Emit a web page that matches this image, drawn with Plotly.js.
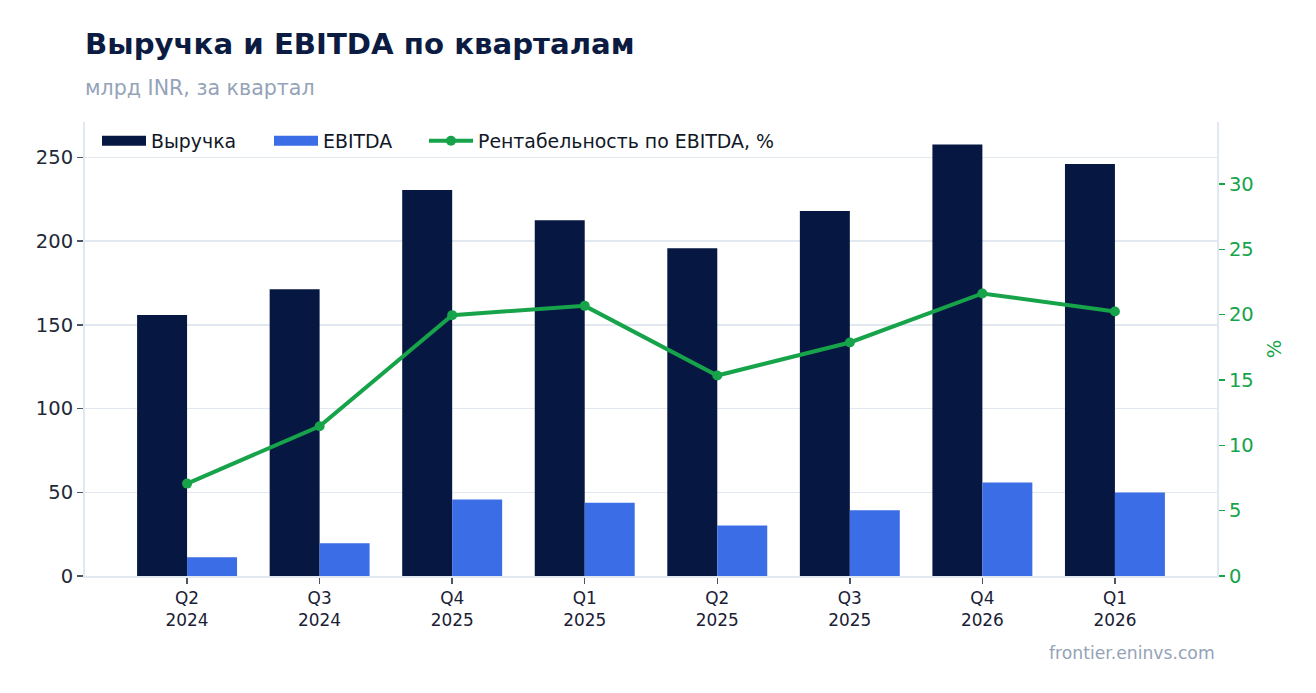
<!DOCTYPE html>
<html>
<head>
<meta charset="utf-8">
<script src="https://cdn.plot.ly/plotly-3.0.1.min.js"></script>
<style>
  html, body { margin: 0; padding: 0; background: #ffffff; }
  #chart { width: 1316px; height: 693px; }
</style>
</head>
<body>
<div id="chart"></div>
<script>
// ---- Data ----
const quarters = ["Q2<br>2024", "Q3<br>2024", "Q4<br>2025", "Q1<br>2025", "Q2<br>2025", "Q3<br>2025", "Q4<br>2026", "Q1<br>2026"];
const revenue = [155.8, 171.3, 230.5, 212.5, 195.7, 217.9, 257.6, 246.0];
const ebitda = [11.2, 19.5, 45.7, 43.8, 30.1, 39.2, 55.8, 49.8];
const margin = [7.07, 11.46, 19.96, 20.67, 15.34, 17.87, 21.62, 20.24];

const seriesNames = ["Выручка", "EBITDA", "Рентабельность по EBITDA, %"];
const titleText = "Выручка и EBITDA по кварталам";
const subtitleText = "млрд INR, за квартал";
const sourceText = "frontier.eninvs.com";

// ---- Styles ----
const FONT = "DejaVu Sans, Verdana, sans-serif";
const NAVY = "#061741";
const BLUE = "#3b6de7";
const GREEN = "#16a34a";
const GRID = "#e2e8f0";
const MUTED = "#94a3b8";
const TEXT = "#1f2937";

const traces = [
  // legend-only swatches (wide rectangles like the reference)
  { type: "scatter", mode: "lines", x: [null], y: [null], name: seriesNames[0],
    line: { color: NAVY, width: 13 }, hoverinfo: "skip", legend: "legend" },
  { type: "scatter", mode: "lines", x: [null], y: [null], name: seriesNames[1],
    line: { color: BLUE, width: 13 }, hoverinfo: "skip", legend: "legend" },
  { type: "bar", x: quarters, y: revenue, name: seriesNames[0], showlegend: false,
    marker: { color: NAVY, line: { width: 0 } } },
  { type: "bar", x: quarters, y: ebitda, name: seriesNames[1], showlegend: false,
    marker: { color: BLUE, line: { width: 0 } } },
  { type: "scatter", mode: "lines+markers", x: quarters, y: margin, name: seriesNames[2],
    yaxis: "y2", legend: "legend2",
    line: { color: GREEN, width: 4 }, marker: { color: GREEN, size: 10 } }
];

const legendFont = { family: FONT, size: 18.9, color: "#111827" };

const layout = {
  width: 1316, height: 693,
  paper_bgcolor: "#ffffff", plot_bgcolor: "#ffffff",
  font: { family: FONT, color: TEXT, size: 18.9 },
  margin: { l: 85, r: 99, t: 122, b: 117, pad: 0 },
  title: {
    text: titleText,
    font: { family: FONT, size: 29.2, color: "#0b1b42", weight: "bold" },
    x: 85 / 1316, xanchor: "left", xref: "container",
    y: 1 - 44 / 693, yanchor: "middle", yref: "container"
  },
  barmode: "group",
  bargap: 0.246,
  bargroupgap: 0,
  showlegend: true,
  legend: {
    orientation: "h", x: 0.0106, xanchor: "left", y: 1, yanchor: "top",
    bgcolor: "rgba(0,0,0,0)", font: legendFont,
    traceorder: "normal", itemwidth: 44, entrywidth: 113, entrywidthmode: "pixels"
  },
  legend2: {
    orientation: "h", x: (424 - 85) / 1132, xanchor: "left", y: 1, yanchor: "top",
    bgcolor: "rgba(0,0,0,0)", font: legendFont,
    traceorder: "normal", itemwidth: 44
  },
  xaxis: {
    type: "category",
    range: [-0.77, 7.77],
    showgrid: false, zeroline: false,
    showline: true, linecolor: GRID, linewidth: 2,
    ticks: "outside", ticklen: 6, tickwidth: 1.5, tickcolor: "#4b5563",
    tickfont: { family: FONT, size: 16.9, color: "#1a2035" },
    fixedrange: true
  },
  yaxis: {
    range: [0, 271.1], dtick: 50, tick0: 0,
    showgrid: true, gridcolor: GRID, gridwidth: 1.5,
    zeroline: false,
    showline: true, linecolor: GRID, linewidth: 2,
    ticks: "outside", ticklen: 6, tickwidth: 1.5, tickcolor: "#4b5563",
    tickfont: { family: FONT, size: 19.5, color: TEXT },
    fixedrange: true
  },
  yaxis2: {
    overlaying: "y", side: "right",
    range: [0, 34.74], dtick: 5, tick0: 0,
    showgrid: false, zeroline: false,
    showline: true, linecolor: GRID, linewidth: 2,
    ticks: "outside", ticklen: 6, tickwidth: 1.5, tickcolor: GREEN,
    tickfont: { family: FONT, size: 19.5, color: GREEN },
    title: { text: "%", font: { family: FONT, size: 19.5, color: GREEN }, standoff: 15 },
    fixedrange: true
  },
  annotations: [
    { text: subtitleText, xref: "paper", yref: "paper", x: -0.002, y: (576 - 88) / 454,
      xanchor: "left", yanchor: "middle", showarrow: false,
      font: { family: FONT, size: 20.6, color: MUTED } },
    { text: sourceText, xref: "paper", yref: "paper", x: 1, y: (576 - 653) / 454,
      xanchor: "right", yanchor: "middle", showarrow: false,
      font: { family: FONT, size: 17.2, color: MUTED } }
  ]
};

Plotly.newPlot("chart", traces, layout, { staticPlot: true, displayModeBar: false });
</script>
</body>
</html>
